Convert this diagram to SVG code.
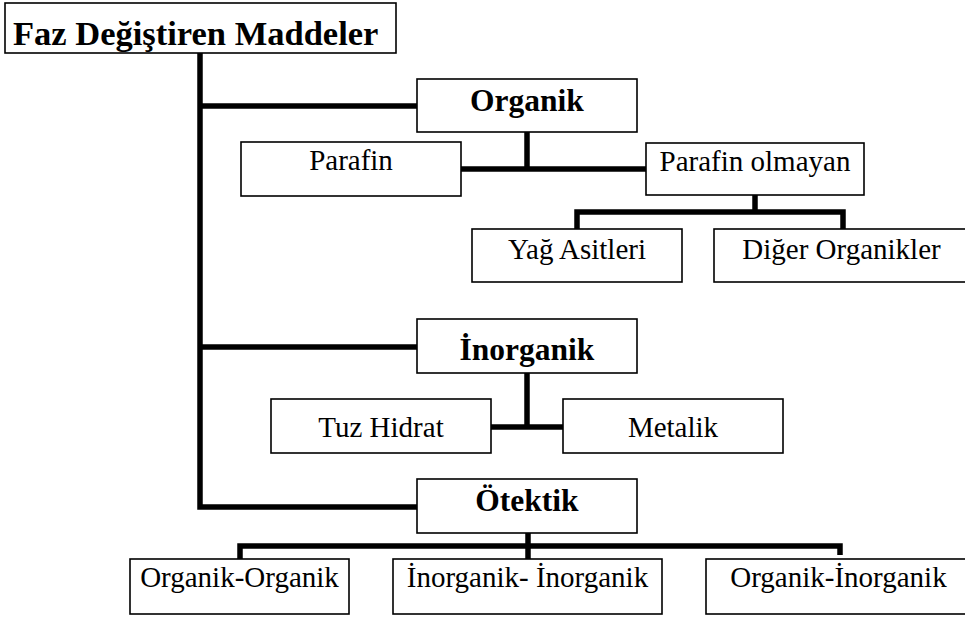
<svg xmlns="http://www.w3.org/2000/svg" width="965" height="619" viewBox="0 0 965 619">
<style>
.box{fill:#fff;stroke:#000;stroke-width:1.6}
.t{font-family:'Liberation Serif',Tinos,'Times New Roman','Nimbus Roman','DejaVu Serif',serif;font-size:29px;fill:#000;text-anchor:middle}
.b{font-weight:bold;font-size:31.5px}
.conn{fill:none;stroke:#000;stroke-width:5.5;stroke-linecap:butt;stroke-linejoin:miter}
</style>
<rect width="965" height="619" fill="#fff"/>
<g id="connectors">
<path class="conn" d="M200,53 V507 H417"/>
<path class="conn" d="M200,106 H417"/>
<path class="conn" d="M200,347 H417"/>
<path class="conn" d="M527,132 V169"/>
<path class="conn" d="M461,169 H646"/>
<path class="conn" d="M755,195 V212"/>
<path class="conn" d="M577,229 V212 H843 V229"/>
<path class="conn" d="M527,373 V427"/>
<path class="conn" d="M491,427 H563"/>
<path class="conn" d="M528,533 V559"/>
<path class="conn" d="M240,559 V546 H840 V555"/>
</g>
<g id="n-root"><rect class="box" x="5" y="3" width="391" height="50"/><text class="t b" x="13" y="45" font-family="Liberation Serif, serif" style="font-size:34.5px;text-anchor:start">Faz Değiştiren Maddeler</text></g>
<g id="n-organik"><rect class="box" x="417" y="79" width="220" height="53"/><text class="t b" x="527" y="111">Organik</text></g>
<g id="n-parafin"><rect class="box" x="241" y="142" width="220" height="54"/><text class="t" x="351" y="170">Parafin</text></g>
<g id="n-parafin-olmayan"><rect class="box" x="646" y="143" width="218" height="52"/><text class="t" x="755" y="171">Parafin olmayan</text></g>
<g id="n-yag"><rect class="box" x="472" y="229" width="210" height="53"/><text class="t" x="577" y="259">Yağ Asitleri</text></g>
<g id="n-diger"><rect class="box" x="714" y="229" width="260" height="53"/><text class="t" x="841.5" y="259">Diğer Organikler</text></g>
<g id="n-inorganik"><rect class="box" x="417" y="319" width="220" height="54"/><text class="t b" x="527" y="360">İnorganik</text></g>
<g id="n-tuz"><rect class="box" x="271" y="399" width="220" height="54"/><text class="t" x="381" y="437">Tuz Hidrat</text></g>
<g id="n-metalik"><rect class="box" x="563" y="399" width="220" height="54"/><text class="t" x="673" y="437">Metalik</text></g>
<g id="n-otektik"><rect class="box" x="417" y="479" width="220" height="54"/><text class="t b" x="527" y="511">Ötektik</text></g>
<g id="n-oo"><rect class="box" x="130" y="559" width="219" height="55"/><text class="t" x="239.5" y="587">Organik-Organik</text></g>
<g id="n-ii"><rect class="box" x="393" y="559" width="269" height="55"/><text class="t" x="527.5" y="587">İnorganik- İnorganik</text></g>
<g id="n-oi"><rect class="box" x="706" y="559" width="270" height="55"/><text class="t" x="838.5" y="587">Organik-İnorganik</text></g>
</svg>
